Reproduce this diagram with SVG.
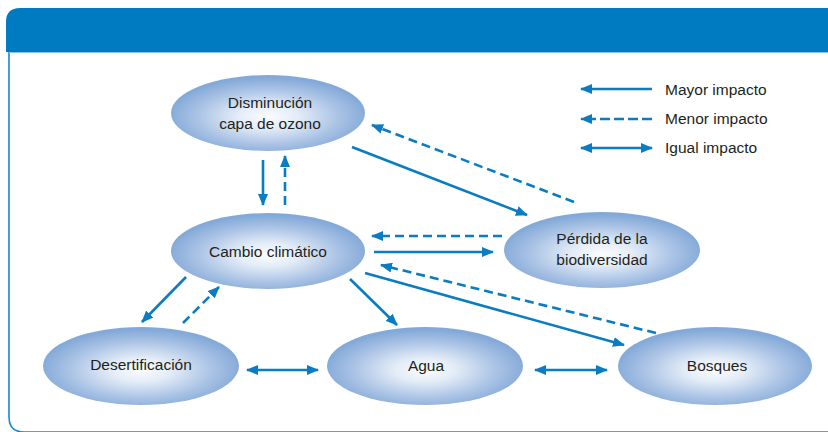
<svg xmlns="http://www.w3.org/2000/svg" width="828" height="432" viewBox="0 0 828 432">
<defs>
<radialGradient id="g" cx="0.5" cy="0.55" r="0.52">
<stop offset="0" stop-color="#fbfcfe"/>
<stop offset="0.3" stop-color="#e3ecf7"/>
<stop offset="0.7" stop-color="#aac3e5"/>
<stop offset="1" stop-color="#83a9d8"/>
</radialGradient>
<marker id="ah" viewBox="0 0 12 10" refX="11" refY="5" markerWidth="12" markerHeight="10" markerUnits="userSpaceOnUse" orient="auto-start-reverse">
<path d="M0,0 L12,5 L0,10 Z" fill="#0a7cc3"/>
</marker>
</defs>
<style>
.n ellipse{fill:url(#g);}
.n text{font-family:"Liberation Sans",Arial,sans-serif;font-size:15.5px;fill:#231f20;text-anchor:middle;}
.c line{stroke:#0a7cc3;stroke-width:2.6;fill:none;}
.s{marker-end:url(#ah);}
.d{marker-end:url(#ah);stroke-dasharray:9 5;}
.b{marker-end:url(#ah);marker-start:url(#ah);}
.lg text{font-family:"Liberation Sans",Arial,sans-serif;font-size:15.5px;fill:#231f20;}
</style>
<rect width="828" height="432" fill="#ffffff"/>
<g id="frame">
<path d="M9 52 V417 Q9 432 24 432 H828" fill="none" stroke="#1a86cf" stroke-width="1.6"/>
<path d="M6 52 V22 Q6 8 20 8 H828 V52 Z" fill="#007bc2"/>
<line x1="9" y1="52.5" x2="828" y2="52.5" stroke="#8fc1e6" stroke-width="1"/>
</g>
<g id="node-ozono" class="n">
<ellipse cx="268" cy="113" rx="97" ry="38"/>
<text x="270" y="108">Disminución</text>
<text x="270" y="129">capa de ozono</text>
</g>
<g id="node-cambio" class="n">
<ellipse cx="268" cy="251" rx="97" ry="38"/>
<text x="268" y="257">Cambio climático</text>
</g>
<g id="node-perdida" class="n">
<ellipse cx="602" cy="250" rx="98" ry="38"/>
<text x="602" y="244">Pérdida de la</text>
<text x="602" y="265">biodiversidad</text>
</g>
<g id="node-desertificacion" class="n">
<ellipse cx="141" cy="366" rx="98" ry="39"/>
<text x="141" y="370">Desertificación</text>
</g>
<g id="node-agua" class="n">
<ellipse cx="425" cy="366" rx="98" ry="39"/>
<text x="426" y="371">Agua</text>
</g>
<g id="node-bosques" class="n">
<ellipse cx="715" cy="366" rx="97" ry="39"/>
<text x="717" y="371">Bosques</text>
</g>
<g id="connectors" class="c">
<line class="s" x1="263" y1="160" x2="263" y2="205"/>
<line class="d" x1="285" y1="205" x2="285" y2="156"/>
<line class="s" x1="352" y1="147" x2="527" y2="215"/>
<line class="d" x1="574" y1="202" x2="372" y2="125"/>
<line class="d" x1="502" y1="236" x2="372" y2="236"/>
<line class="s" x1="374" y1="252" x2="493" y2="252"/>
<line class="d" x1="656" y1="333" x2="381" y2="265"/>
<line class="s" x1="365" y1="273" x2="624" y2="345"/>
<line class="s" x1="350" y1="279" x2="397" y2="325"/>
<line class="s" x1="186" y1="277" x2="142" y2="322"/>
<line class="d" x1="183" y1="323" x2="219" y2="287"/>
<line class="b" x1="247" y1="370" x2="318" y2="370"/>
<line class="b" x1="535" y1="370" x2="607" y2="370"/>
</g>
<g id="legend" class="lg">
<g class="c">
<line class="s" x1="652" y1="89" x2="581" y2="89"/>
<line class="d" x1="652" y1="119" x2="581" y2="119" style="stroke-dasharray:10 4"/>
<line class="b" x1="581" y1="148" x2="652" y2="148"/>
</g>
<text x="665" y="95">Mayor impacto</text>
<text x="665" y="124">Menor impacto</text>
<text x="665" y="153">Igual impacto</text>
</g>
</svg>
